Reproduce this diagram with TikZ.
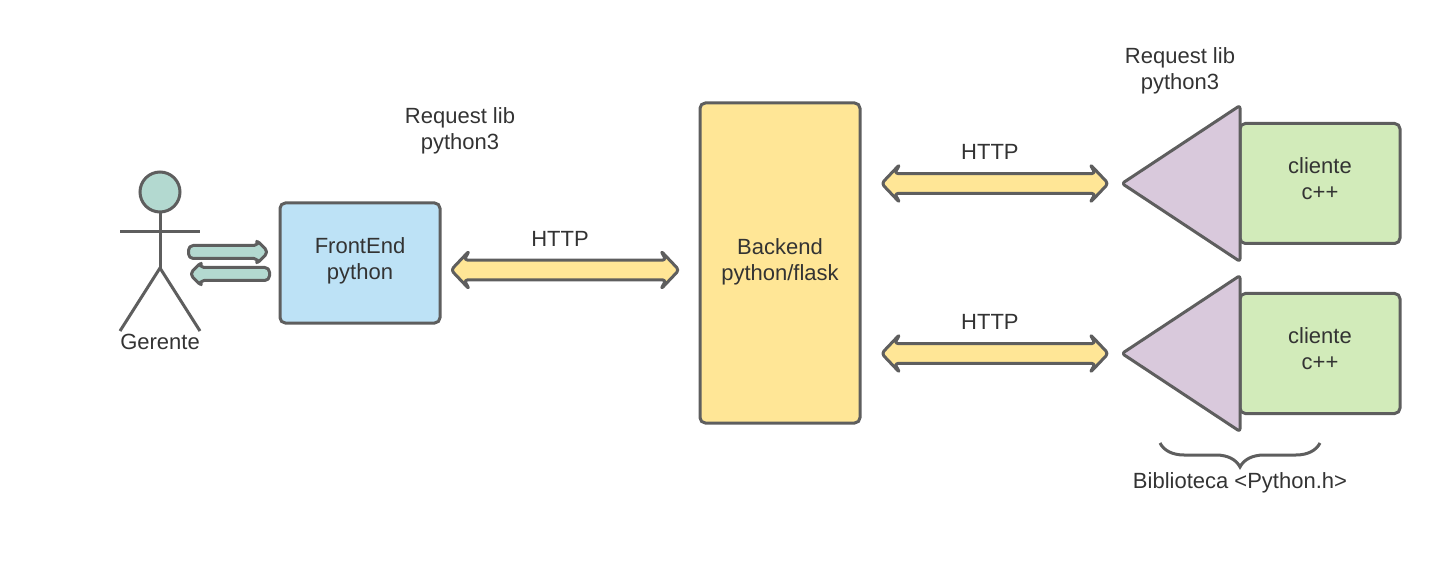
\documentclass[tikz,border=0pt]{standalone}
\usepackage{fontspec}
\setmainfont{Liberation Sans}
\usepackage{xcolor}
\usetikzlibrary{arrows.meta,positioning,shapes.geometric,shapes.arrows,decorations.pathreplacing}
\definecolor{edgegray}{HTML}{5E5E5E}
\definecolor{inkgray}{HTML}{333333}
\definecolor{boxblue}{HTML}{BDE2F6}
\definecolor{boxyellow}{HTML}{FFE696}
\definecolor{boxgreen}{HTML}{D2EBBA}
\definecolor{boxpurple}{HTML}{D9C9DC}
\definecolor{boxteal}{HTML}{B3D9D0}

\begin{document}
\begin{tikzpicture}[x=0.75pt,y=-0.75pt,font=\fontsize{16.5}{19.5}\selectfont,text=inkgray,
  st/.style={draw=edgegray,line width=2.25pt,rounded corners=4pt,minimum width=120pt,outer sep=0pt,inner sep=2pt,align=center},
  lib/.style={draw=edgegray,fill=boxpurple,line width=2.25pt,line join=round,rounded corners=2pt,isosceles triangle,isosceles triangle apex angle=67,isosceles triangle stretches,shape border rotate=180,minimum width=117pt,minimum height=88.5pt,inner sep=0pt,outer sep=0pt,anchor=lower side},
  link/.style={draw=edgegray,fill=boxyellow,line width=2.25pt,line join=round,rounded corners=2.5pt,double arrow,double arrow tip angle=93,double arrow head extend=7pt,double arrow head indent=4pt,minimum width=29pt,inner sep=0pt,outer sep=0pt,text height=12.5pt,text width=0pt},
  req/.style={draw=edgegray,fill=boxteal,line width=2.25pt,line join=round,rounded corners=3.5pt,single arrow,single arrow tip angle=90,single arrow head extend=4.5pt,single arrow head indent=2pt,minimum height=60pt,minimum width=16pt,inner sep=0pt,outer sep=0pt,text height=7.5pt,text width=0pt,anchor=tail},
  stick/.style={draw=edgegray,line width=2.25pt},
  brc/.style={draw=edgegray,line width=2.25pt,decorate,decoration={brace,amplitude=18pt}},
  lbl/.style={align=center,inner sep=0pt}]
\useasboundingbox (0,0) rectangle (1440,563);
% boxes
\node[st,fill=boxyellow,minimum height=240pt,text depth=5pt] (back) at (780,263) {Backend\\python/flask};
\node[st,fill=boxblue,minimum height=90pt,text depth=6pt,left=195pt of back] (front) {FrontEnd\\python};
\node[st,fill=boxgreen,minimum height=90pt,text depth=7.5pt] (cli1) at (1320,183.5) {cliente\\c++};
\node[st,fill=boxgreen,minimum height=90pt,text depth=7.5pt,below=37.5pt of cli1] (cli2) {cliente\\c++};
\node[lib] (tri1) at (cli1.west) {};
\node[lib] (tri2) at (cli2.west) {};
% actor
\node[circle,draw=edgegray,fill=boxteal,line width=2.25pt,minimum size=30pt,inner sep=0pt,outer sep=0pt] (head) at (160,192) {};
\coordinate (hip) at (160,268);
\coordinate (larm) at (120,232);
\coordinate (rarm) at (200,232);
\coordinate (lfoot) at (120,331);
\coordinate (rfoot) at (200,331);
\draw[stick] (head) -- (hip);
\draw[stick] (larm) -- (rarm);
\draw[stick] (lfoot) -- (hip) -- (rfoot);
\node[lbl] (gerente) at (160,342) {Gerente};
% fat arrows
\node[req] (reqa) at (188.5,252) {};
\node[req,shape border rotate=180] (reqb) at (269.5,274) {};
\path (front.east) -- (back.west) node[link,pos=0.481,yshift=-5.25pt,minimum height=171pt] (http0) {};
\path (back.east |- tri1.apex) -- (tri1.apex) node[link,pos=0.515,minimum height=170pt] (http1) {};
\path (back.east |- tri2.apex) -- (tri2.apex) node[link,pos=0.515,minimum height=170pt] (http2) {};
\node[lbl,above=10pt of http0,xshift=-3.75pt] (t0) {HTTP};
\node[lbl,above=10pt of http1,xshift=-3.75pt] (t1) {HTTP};
\node[lbl,above=10pt of http2,xshift=-3.75pt] (t2) {HTTP};
\node[lbl] (req0) at (460,130.5) {Request lib\\python3};
\node[lbl] (req1) at (1180,71) {Request lib\\python3};
% brace
\coordinate (bl) at (1160,443);
\coordinate (br) at (1320,443);
\draw[brc] (br) -- (bl);
\node[lbl] (bib) at (1240,483) {Biblioteca <Python.h>};
\end{tikzpicture}
\end{document}
